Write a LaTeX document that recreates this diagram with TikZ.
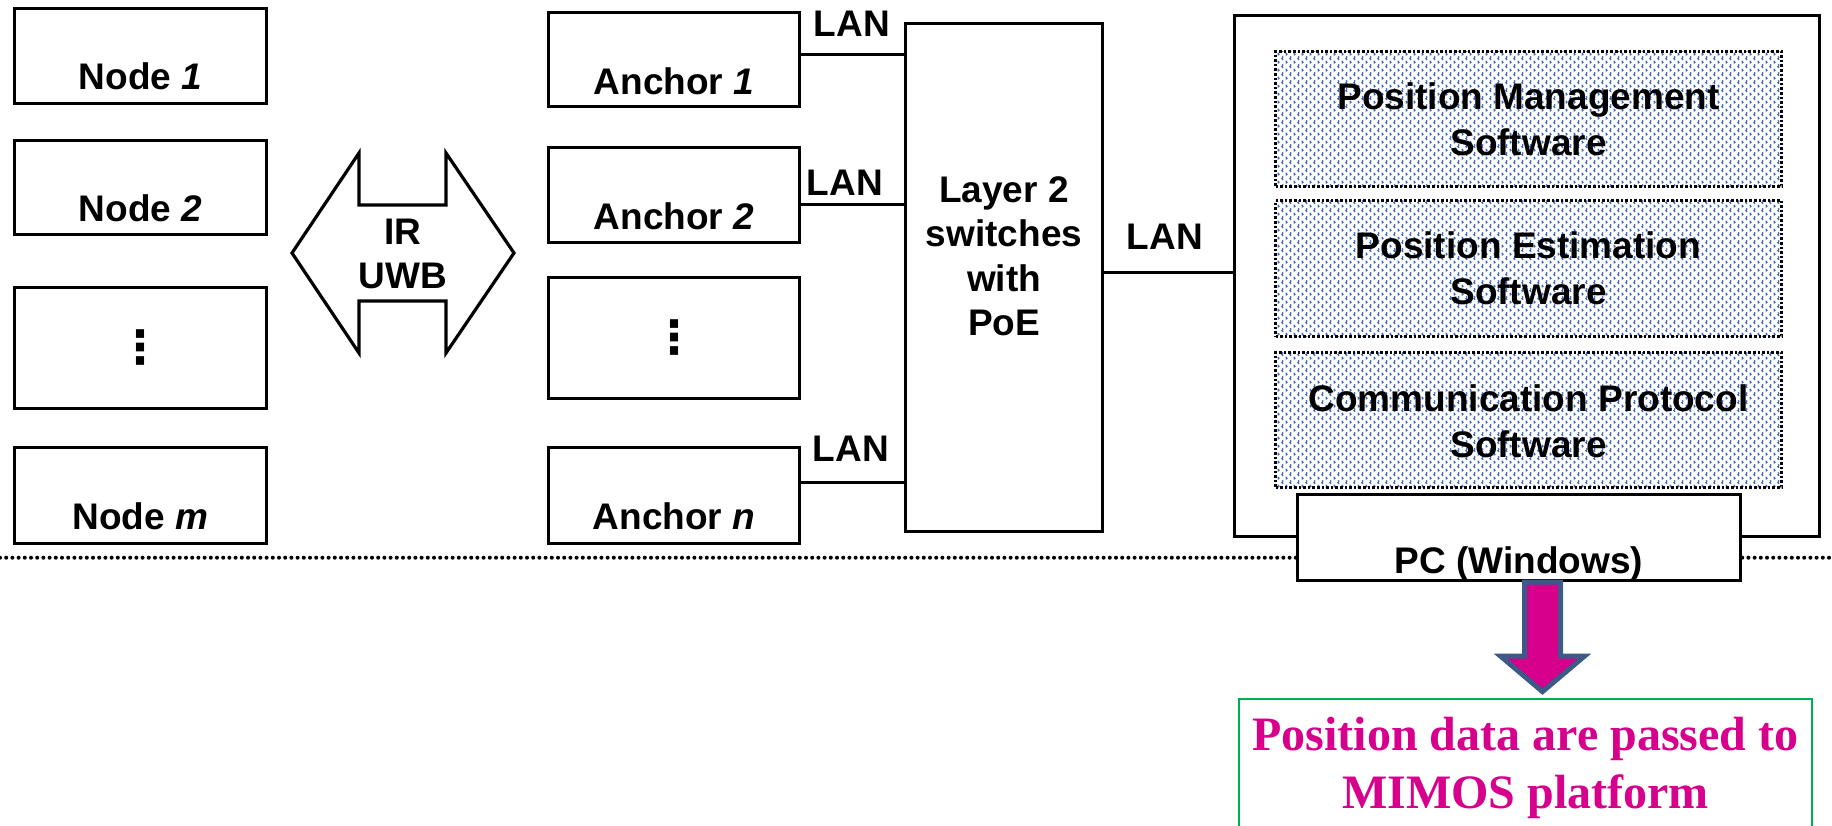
\documentclass[tikz,border=0pt]{standalone}
\usepackage{fontspec}
\setmainfont{Liberation Sans}
\newfontfamily\timesfont{Liberation Serif}
\newfontfamily\dejavu{DejaVu Sans}
\usetikzlibrary{patterns.meta}
\definecolor{patblue}{RGB}{60,105,190}
\definecolor{magentaA}{RGB}{214,0,140}
\definecolor{slateA}{RGB}{60,90,135}
\definecolor{greenA}{RGB}{0,176,80}
\tikzdeclarepattern{
  name=swdots,
  type=colored,
  bottom left={(0pt,0pt)},
  top right={(8.3pt,8pt)},
  tile size={(8.3pt,8pt)},
  code={
    \draw[patblue, line width=1.3pt] (0.8pt,4.6pt) -- (2.2pt,3.2pt) -- (0.8pt,1.8pt);
    \draw[patblue, line width=1.3pt] (6.6pt,8.6pt) -- (5.2pt,7.2pt) -- (6.6pt,5.8pt);
    \draw[patblue, line width=1.3pt] (6.6pt,0.6pt) -- (5.2pt,-0.8pt) -- (6.6pt,-2.2pt);
  }
}
\newcommand{\mlines}[3]{\raisebox{#1}[\height][\depth]{\fontsize{37}{#2}\selectfont\begin{tabular}{@{}c@{}}#3\end{tabular}}}
\begin{document}
\begin{tikzpicture}[x=1pt,y=-1pt,
  every node/.style={font=\bfseries\fontsize{37}{44}\selectfont},
  box/.style={draw, line width=3.2pt, fill=white, inner sep=0pt},
  nodebox/.style={box, minimum width=252pt},
  anchorbox/.style={box, minimum width=251pt},
  swbox/.style={draw, line width=3pt, dash pattern=on 2.6pt off 2pt, inner sep=0pt,
    preaction={fill=white}, pattern=swdots, minimum width=506pt},
  link/.style={line width=3pt},
  lan/.style={anchor=base, inner sep=0pt},
  dotline/.style={line width=4pt, dash pattern=on 0pt off 6.2pt, line cap=round},
  blockarrow/.style={draw=slateA, fill=magentaA, line width=5pt},
  uwbarrow/.style={draw, line width=3.2pt, fill=white},
  dotsfont/.style={font=\dejavu\bfseries\fontsize{46}{50}\selectfont}
]
\useasboundingbox (0,0) rectangle (1832,825);
\clip (0,0) rectangle (1832,825);

% separator
\coordinate (sepL) at (0,557.7);
\coordinate (sepR) at (1832,557.7);
\draw[dotline] (sepL) -- (sepR);

% nodes
\node[nodebox, minimum height=95pt, text height=81pt, text depth=14pt] (n1) at (140.5,56) {Node \textit{1}};
\node[nodebox, minimum height=94pt, text height=80.5pt, text depth=13.5pt] (n2) at (140.5,187.5) {Node \textit{2}};
\node[nodebox, minimum height=121pt, dotsfont] (nd) at (140.5,348) {⋮\hspace{24pt}};
\node[nodebox, minimum height=96pt, text height=81.5pt, text depth=14.5pt] (nm) at (140.5,495.5) {Node \textit{m}};

% IR UWB double arrow
\coordinate (uwbc) at (403,253);
\draw[uwbarrow] (uwbc) ++(-111,0) -- ++(67,-100) -- ++(0,52) -- ++(87,0) -- ++(0,-52)
  -- ++(68,100) -- ++(-68,100) -- ++(0,-52) -- ++(-87,0) -- ++(0,52) -- cycle;
\node[inner sep=0pt] (uwb) at (uwbc) {\mlines{-5pt}{44}{IR\\UWB}};

% anchors
\node[anchorbox, minimum height=94pt, text height=81.5pt, text depth=12.5pt] (a1) at (674,59.5) {Anchor \textit{1}};
\node[anchorbox, minimum height=95pt, text height=81.5pt, text depth=13.5pt] (a2) at (674,195) {Anchor \textit{2}};
\node[anchorbox, minimum height=121pt, dotsfont] (ad) at (674,338) {⋮\hspace{24pt}};
\node[anchorbox, minimum height=96pt, text height=81.5pt, text depth=14.5pt] (an) at (674,495.5) {Anchor \textit{n}};

% switch
\node[box, minimum width=197pt, minimum height=508pt] (sw) at (1004,277.5) {\mlines{17.5pt}{44.5}{Layer 2\\switches\\with\\PoE}};

% LAN links
\draw[link] (a1.east |- 0,54) -- (sw.west |- 0,54);
\draw[link] (a2.east |- 0,204) -- (sw.west |- 0,204);
\draw[link] (an.east |- 0,482) -- (sw.west |- 0,482);
\node[lan] (lan1) at (852,36) {LAN};
\node[lan] (lan2) at (845,195) {LAN};
\node[lan] (lan3) at (851,461) {LAN};

% PC
\node[box, minimum width=585pt, minimum height=521pt] (pcout) at (1527,276) {};
\draw[link] (sw.east |- 0,272) -- (pcout.west |- 0,272);
\node[lan] (lan4) at (1165,249) {LAN};

\node[swbox, minimum height=135pt] (pms) at (1528.5,119) {\mlines{-4.5pt}{46}{Position Management\\Software}};
\node[swbox, minimum height=136pt] (pes) at (1528.5,268.5) {\mlines{-3.5pt}{46}{Position Estimation\\Software}};
\node[swbox, minimum height=135pt] (cps) at (1528.5,420) {\mlines{-5.5pt}{46}{Communication Protocol\\Software}};

\node[box, minimum width=443pt, minimum height=86pt, text height=78.5pt, text depth=7.5pt] (pc) at (1519,537.5) {PC (Windows)};

% output message
\node[draw=greenA, line width=2pt, fill=white, inner sep=0pt, minimum width=573pt, minimum height=137pt,
  text=magentaA, font=\timesfont\bfseries\fontsize{48}{58}\selectfont] (msg) at (1525.5,767.5)
  {\begin{tabular}{@{}c@{}}Position data are passed to\\MIMOS platform\end{tabular}};

\coordinate (arrtop) at (pc.south -| 1542.5,0);
\draw[blockarrow] (arrtop) ++(-18,0) -- ++(36,0) -- ++(0,74) -- ++(24,0) -- ++(-42,35.5) -- ++(-42,-35.5) -- ++(24,0) -- cycle;
\end{tikzpicture}
\end{document}
